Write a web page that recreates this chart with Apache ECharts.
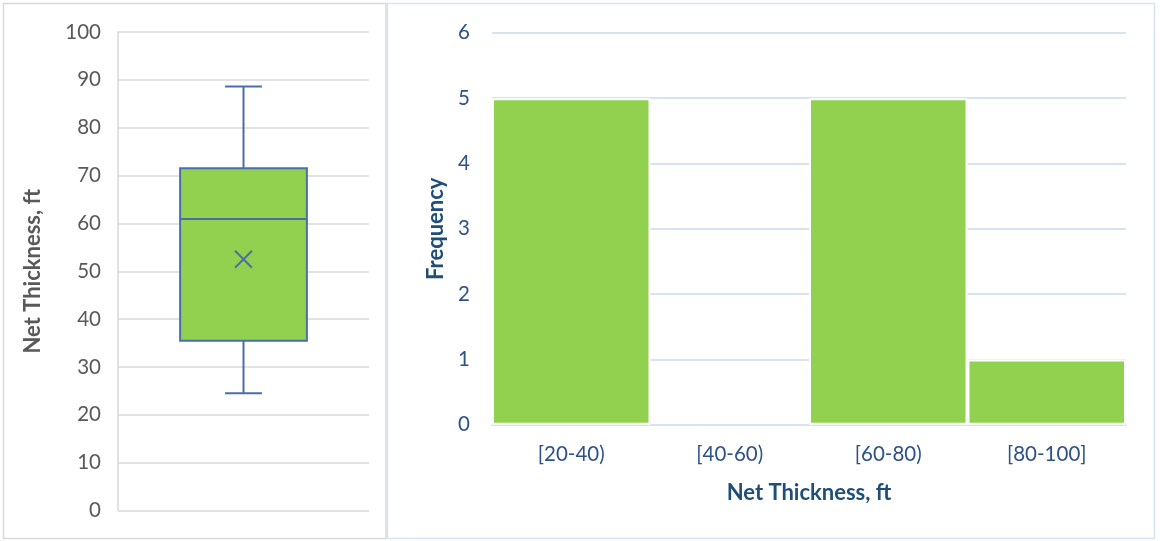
<!DOCTYPE html>
<html>
<head>
<meta charset="utf-8">
<script src="https://cdn.jsdelivr.net/npm/echarts@6/dist/echarts.min.js"></script>
<style>
html,body{margin:0;padding:0;background:#fff;}
#chart{width:1160px;height:541px;}
</style>
</head>
<body>
<div id="chart"></div>
<script>
// Box plot summary (Net Thickness, ft)
const boxCategory = ['Net Thickness'];
const boxStats = [24.5, 35.5, 60.9, 71.5, 88.6]; // min, Q1, median, Q3, max
const boxMean = 52.5;
const boxTicks = [0, 100, 10]; // min, max, interval

// Histogram
const binLabels = ['[20-40)', '[40-60)', '[60-80)', '[80-100]'];
const binCounts = [5, 0, 5, 1];
const freqTicks = [0, 6, 1];

const FONT = 'Lato';
const GREEN = '#92d050';
const BOXLINE = '#4a6ea8';

const chart = echarts.init(document.getElementById('chart'));

const option = {
  backgroundColor: '#ffffff',
  animation: false,
  textStyle: { fontFamily: FONT },
  graphic: [
    { type: 'rect', shape: { x: 3.5, y: 3.5, width: 382.5, height: 535 }, style: { fill: 'none', stroke: '#d9d9d9', lineWidth: 1.5 }, z: -10 },
    { type: 'rect', shape: { x: 387.5, y: 3.5, width: 767, height: 535 }, style: { fill: 'none', stroke: '#d6e3f3', lineWidth: 1.5 }, z: -10 }
  ],
  grid: [
    { left: 118, top: 32, width: 251, height: 478.5 },
    { left: 492, top: 32.8, width: 634, height: 392 }
  ],
  xAxis: [
    {
      type: 'category', gridIndex: 0, data: boxCategory,
      axisLine: { show: false }, axisTick: { show: false }, axisLabel: { show: false },
      splitLine: { show: false }
    },
    {
      type: 'category', gridIndex: 1, data: binLabels,
      axisLine: { show: true, lineStyle: { color: '#d6e3f3', width: 2 } },
      axisTick: { show: false },
      axisLabel: { color: '#2e5188', fontSize: 20.5, margin: 19, fontFamily: FONT },
      name: 'Net Thickness, ft', nameLocation: 'middle', nameGap: 57,
      nameTextStyle: { color: '#1f4e79', fontSize: 22, fontWeight: 'bold', fontFamily: FONT }
    }
  ],
  yAxis: [
    {
      type: 'value', gridIndex: 0, min: boxTicks[0], max: boxTicks[1], interval: boxTicks[2],
      axisLine: { show: true, lineStyle: { color: '#d9d9d9', width: 1.5 } },
      axisTick: { show: false },
      axisLabel: { color: '#595959', fontSize: 20.5, margin: 17, fontFamily: FONT },
      splitLine: { show: true, lineStyle: { color: '#d9d9d9', width: 1.5 } },
      name: 'Net Thickness, ft', nameLocation: 'middle', nameGap: 74, nameRotate: 90,
      nameTextStyle: { color: '#595959', fontSize: 22, fontWeight: 'bold', fontFamily: FONT }
    },
    {
      type: 'value', gridIndex: 1, min: freqTicks[0], max: freqTicks[1], interval: freqTicks[2],
      axisLine: { show: false }, axisTick: { show: false },
      axisLabel: { color: '#2e5188', fontSize: 20.5, margin: 22, fontFamily: FONT },
      splitLine: { show: true, lineStyle: { color: '#d6e3f3', width: 2 } },
      name: 'Frequency', nameLocation: 'middle', nameGap: 44, nameRotate: 90,
      nameTextStyle: { color: '#1f4e79', fontSize: 22, fontWeight: 'bold', fontFamily: FONT }
    }
  ],
  series: [
    {
      type: 'custom', xAxisIndex: 0, yAxisIndex: 0,
      data: [[0].concat(boxStats, [boxMean])],
      encode: { x: 0, y: [1, 2, 3, 4, 5, 6] },
      renderItem: function (params, api) {
        const xi = api.value(0);
        const band = api.size([1, 0])[0];
        const cx = api.coord([xi, 0])[0];
        const yMin = api.coord([xi, api.value(1)])[1];
        const yQ1 = api.coord([xi, api.value(2)])[1];
        const yMed = api.coord([xi, api.value(3)])[1];
        const yQ3 = api.coord([xi, api.value(4)])[1];
        const yMax = api.coord([xi, api.value(5)])[1];
        const yMean = api.coord([xi, api.value(6)])[1];
        const hw = band * 0.505 / 2;
        const cw = band * 0.147 / 2;
        const m = 8.5;
        const ls = { stroke: BOXLINE, lineWidth: 2, fill: 'none' };
        return {
          type: 'group',
          children: [
            { type: 'line', shape: { x1: cx, y1: yMax, x2: cx, y2: yQ3 }, style: ls },
            { type: 'line', shape: { x1: cx, y1: yQ1, x2: cx, y2: yMin }, style: ls },
            { type: 'line', shape: { x1: cx - cw, y1: yMax, x2: cx + cw, y2: yMax }, style: ls },
            { type: 'line', shape: { x1: cx - cw, y1: yMin, x2: cx + cw, y2: yMin }, style: ls },
            { type: 'rect', shape: { x: cx - hw, y: yQ3, width: hw * 2, height: yQ1 - yQ3 }, style: { fill: GREEN, stroke: BOXLINE, lineWidth: 2 } },
            { type: 'line', shape: { x1: cx - hw, y1: yMed, x2: cx + hw, y2: yMed }, style: ls },
            { type: 'line', shape: { x1: cx - m, y1: yMean - m, x2: cx + m, y2: yMean + m }, style: ls },
            { type: 'line', shape: { x1: cx - m, y1: yMean + m, x2: cx + m, y2: yMean - m }, style: ls }
          ]
        };
      }
    },
    {
      type: 'bar', xAxisIndex: 1, yAxisIndex: 1,
      barCategoryGap: '0%',
      data: binCounts.map(v => v === 0 ? { value: v, itemStyle: { borderWidth: 0 } } : v),
      itemStyle: { color: GREEN, borderColor: '#ffffff', borderWidth: 2 },
      z: 2
    }
  ]
};

chart.setOption(option);
</script>
</body>
</html>
